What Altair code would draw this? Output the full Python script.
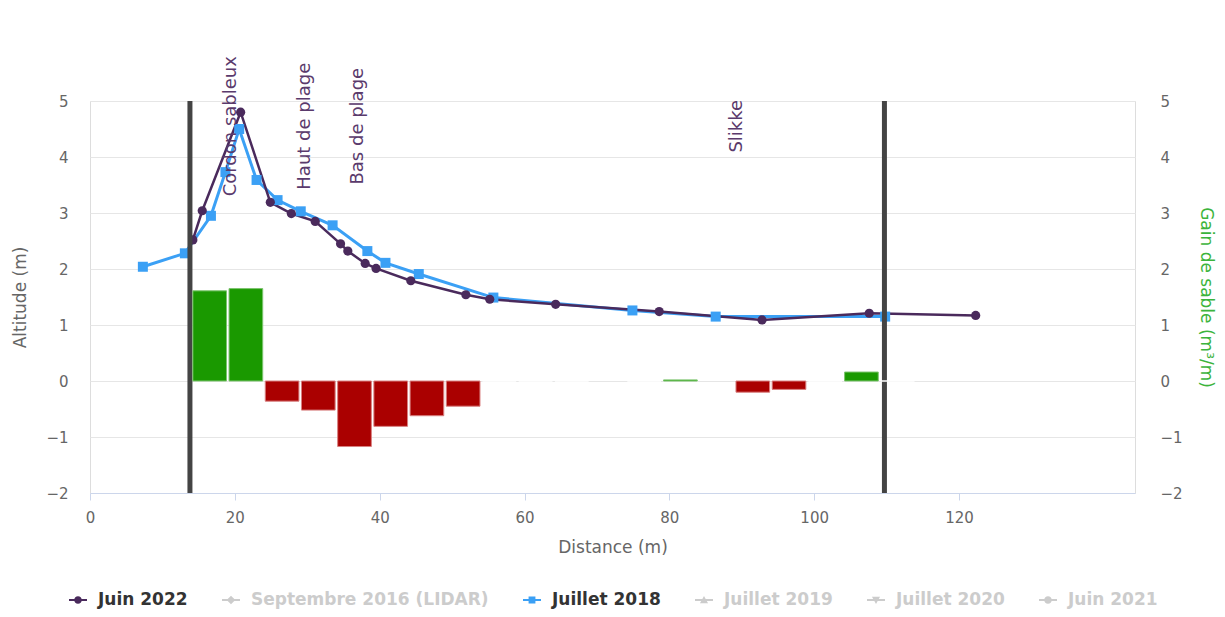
import altair as alt
import pandas as pd

# ---- data ----
j22_dist = [14.2, 15.5, 20.8, 24.9, 27.8, 31.1, 34.6, 35.6, 38.0, 39.5, 44.3, 51.9, 55.2, 64.3, 78.6, 92.8, 107.6, 122.3]
j22_alt = [2.52, 3.04, 4.80, 3.19, 2.99, 2.85, 2.45, 2.32, 2.10, 2.01, 1.79, 1.54, 1.46, 1.37, 1.24, 1.09, 1.21, 1.17]

j18_dist = [7.3, 13.1, 16.7, 18.7, 20.6, 23.0, 25.9, 29.1, 33.5, 38.3, 40.8, 45.4, 55.7, 74.9, 86.4, 109.8]
j18_alt = [2.04, 2.28, 2.95, 3.73, 4.50, 3.59, 3.23, 3.03, 2.78, 2.32, 2.11, 1.91, 1.49, 1.26, 1.15, 1.15]

bin_start = [14, 19, 24, 29, 34, 39, 44, 49, 54, 59, 64, 74, 79, 89, 94, 99, 104, 109]
gain = [1.61, 1.65, -0.36, -0.52, -1.17, -0.81, -0.62, -0.45, 0, 0, 0, 0, 0.02, -0.20, -0.15, 0, 0.16, 0]

zone_labels = ["Cordon sableux", "Haut de plage", "Bas de plage", "Slikke"]
zone_x = [19.5, 29.7, 37.0, 89.4]
zone_y = [4.55, 4.55, 4.55, 4.55]

limit_x = [13.8, 109.7]

series_names = ["Juin 2022", "Septembre 2016 (LIDAR)", "Juillet 2018", "Juillet 2019", "Juillet 2020", "Juin 2021"]
series_colors = ["#4a2a5c", "#cccccc", "#3ba0f5", "#cccccc", "#cccccc", "#cccccc"]
visible_series = ["Juin 2022", "Juillet 2018"]

x_ticks = [0, 20, 40, 60, 80, 100, 120]
y_ticks = [-2, -1, 0, 1, 2, 3, 4, 5]

FONT = "DejaVu Sans"
PURPLE = "#4a2a5c"
BLUE = "#3ba0f5"
GREEN = "#1a9900"
RED = "#aa0000"

# ---- tables ----
df22 = pd.DataFrame({"dist": j22_dist, "alt": j22_alt})
df18 = pd.DataFrame({"dist": j18_dist, "alt": j18_alt})
dfbars = pd.DataFrame({"start": bin_start, "gain": gain})
dfzones = pd.DataFrame({"label": zone_labels, "x": zone_x, "y": zone_y})
dflim = pd.DataFrame({"x": limit_x})
dfleg = pd.DataFrame({"series": series_names})

xscale = alt.Scale(domain=[0, 144.3], nice=False, zero=False)
yscale = alt.Scale(domain=[-2, 5], nice=False)

xaxis = alt.Axis(values=x_ticks, title="Distance (m)", grid=False, labelFlush=False,
                 domainColor="#ccd6eb", tickColor="#ccd6eb", tickSize=7,
                 labelFontSize=15, labelColor="#666666", labelPadding=10,
                 titleFontSize=17, titleColor="#666666", titleFontWeight="normal",
                 titlePadding=14, labelFont=FONT, titleFont=FONT)

yaxis_left = alt.Axis(values=y_ticks, format="d", title="Altitude (m)", grid=True, gridColor="#e6e6e6",
                      domain=False, ticks=False, labelPadding=22,
                      labelFontSize=15, labelColor="#666666",
                      titleFontSize=17, titleColor="#666666", titleFontWeight="normal",
                      titlePadding=16, labelFont=FONT, titleFont=FONT)

yaxis_right = alt.Axis(values=y_ticks, format="d", title="Gain de sable (m³/m)", orient="right", grid=False,
                       domain=False, ticks=False, labelPadding=25,
                       labelFontSize=15, labelColor="#666666",
                       titleFontSize=17, titleColor="#3cb43c", titleFontWeight="normal",
                       titleAngle=90, titlePadding=14, labelFont=FONT, titleFont=FONT)

# bars (right axis)
bars = alt.Chart(dfbars).transform_calculate(
    x0="datum.start + 0.2",
    x1="datum.start + 4.85",
    base="0",
    fillc=f"datum.gain > 0 ? '{GREEN}' : '{RED}'",
    strokec=f"datum.gain == 0 ? 'white' : (datum.gain > 0 ? '#7cc46e' : '#d88080')",
).mark_bar(strokeWidth=1).encode(
    x=alt.X("x0:Q", scale=xscale, axis=xaxis),
    x2="x1:Q",
    y=alt.Y("gain:Q", scale=yscale, axis=yaxis_right),
    y2="base:Q",
    fill=alt.Fill("fillc:N", scale=None),
    stroke=alt.Stroke("strokec:N", scale=None),
)

# left-axis layers
line22 = alt.Chart(df22).mark_line(color=PURPLE, strokeWidth=2.5).encode(
    x=alt.X("dist:Q", scale=xscale, axis=xaxis),
    y=alt.Y("alt:Q", scale=yscale, axis=yaxis_left),
)
pts22 = alt.Chart(df22).mark_point(filled=True, shape="circle", size=85, color=PURPLE, opacity=1).encode(
    x="dist:Q", y="alt:Q")

line18 = alt.Chart(df18).mark_line(color=BLUE, strokeWidth=3).encode(
    x="dist:Q", y="alt:Q")
pts18 = alt.Chart(df18).mark_point(filled=True, shape="square", size=100, color=BLUE, opacity=1).encode(
    x="dist:Q", y="alt:Q")

limits = alt.Chart(dflim).mark_rule(color="#444444", strokeWidth=5).encode(x="x:Q")

zones = alt.Chart(dfzones).mark_text(angle=270, align="center", baseline="middle",
                                     fontSize=18, font=FONT, color="#5a3a6c").encode(
    x="x:Q", y="y:Q", text="label:N")

# legend-only layer
shape_paths = [
    "M-1,-0.11H1V0.11H-1Z M0.42,0A0.42,0.42,0,1,1,-0.42,0A0.42,0.42,0,1,1,0.42,0Z",
    "M-1,-0.11H1V0.11H-1Z M0,-0.48L0.48,0L0,0.48L-0.48,0Z",
    "M-1,-0.11H1V0.11H-1Z M-0.38,-0.38H0.38V0.38H-0.38Z",
    "M-1,-0.11H1V0.11H-1Z M0,-0.45L0.45,0.35H-0.45Z",
    "M-1,-0.11H1V0.11H-1Z M-0.45,-0.35H0.45L0,0.45Z",
    "M-1,-0.11H1V0.11H-1Z M0.42,0A0.42,0.42,0,1,1,-0.42,0A0.42,0.42,0,1,1,0.42,0Z",
]
label_color_expr = "indexof(" + str(visible_series).replace('"', "'") + ", datum.label) >= 0 ? '#333333' : '#cccccc'"
legend = alt.Legend(title=None, orient="none", legendX=-21, legendY=490, direction="horizontal",
                    columns=6, columnPadding=34, labelOffset=11,
                    labelFont=FONT, labelFontSize=17, labelFontWeight="bold",
                    labelColor={"expr": label_color_expr}, labelLimit=400,
                    symbolSize=324, symbolStrokeWidth=0, symbolOpacity=1)
legend_layer = alt.Chart(dfleg).mark_point(filled=True, opacity=0).encode(
    color=alt.Color("series:N", scale=alt.Scale(domain=series_names, range=series_colors),
                    legend=legend, sort=series_names),
    shape=alt.Shape("series:N", scale=alt.Scale(domain=series_names, range=shape_paths),
                    legend=legend, sort=series_names),
)

left = alt.layer(line18, line22, pts18, pts22, limits, zones, legend_layer)

chart = alt.layer(left, bars).resolve_scale(y="independent").properties(
    width=1045, height=392,
    autosize=alt.AutoSizeParams(type="none"),
    padding={"left": 82, "top": 93, "right": 82, "bottom": 116},
).configure_view(stroke=None).configure(font=FONT)

chart.save("out.html", embed_options={"renderer": "svg", "actions": False})
